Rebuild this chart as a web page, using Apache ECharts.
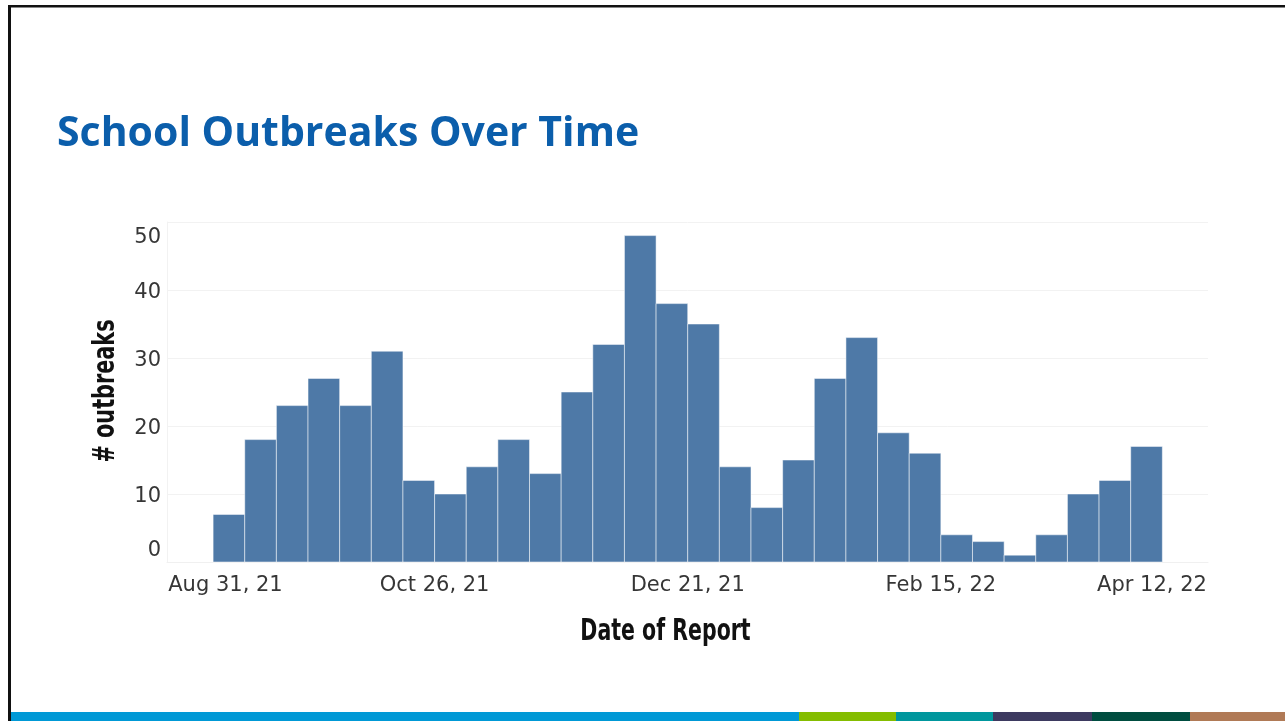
<!DOCTYPE html>
<html>
<head>
<meta charset="utf-8">
<script src="https://cdn.jsdelivr.net/npm/echarts@6/dist/echarts.min.js"></script>
<style>
html,body{margin:0;padding:0;background:#fff;}
#c{width:1285px;height:721px;}
</style>
</head>
<body>
<div id="c"></div>
<script>
// Week start dates (each bar covers one week)
const weekStarts = [
  '2021-09-07','2021-09-14','2021-09-21','2021-09-28',
  '2021-10-05','2021-10-12','2021-10-19','2021-10-26',
  '2021-11-02','2021-11-09','2021-11-16','2021-11-23','2021-11-30',
  '2021-12-07','2021-12-14','2021-12-21','2021-12-28',
  '2022-01-04','2022-01-11','2022-01-18','2022-01-25',
  '2022-02-01','2022-02-08','2022-02-15','2022-02-22',
  '2022-03-01','2022-03-08','2022-03-15','2022-03-22','2022-03-29'
];
const outbreaks = [7,18,23,27,23,31,12,10,14,18,13,25,32,48,38,35,14,8,15,27,33,19,16,4,3,1,4,10,12,17];
const tickDates = ['2021-08-31','2021-10-26','2021-12-21','2022-02-15','2022-04-12'];
const tickLabels = ['Aug 31, 21','Oct 26, 21','Dec 21, 21','Feb 15, 22','Apr 12, 22'];
const yTicks = [0,10,20,30,40,50];
const xTitle = 'Date of Report';
const yTitle = '# outbreaks';

const DAY = 86400000;
const ts = s => new Date(s + 'T00:00:00Z').getTime();
const tickTs = tickDates.map(ts);
const seriesData = weekStarts.map((d, i) => [ts(d), outbreaks[i]]);

const chart = echarts.init(document.getElementById('c'), null, {renderer: 'canvas'});
const tickFont = "'DejaVu Sans', sans-serif";
const condFont = "'DejaVu Sans Condensed', 'Liberation Sans Narrow', sans-serif";
const tickColor = '#363636';

chart.setOption({
  animation: false,
  backgroundColor: '#ffffff',
  title: {
    text: 'School Outbreaks Over Time',
    left: 52,
    top: 109,
    textStyle: {
      fontFamily: "'Open Sans', sans-serif",
      fontWeight: 'bold',
      fontSize: 41,
      color: '#0b5eab'
    }
  },
  graphic: [
    {type: 'rect', shape: {x: 8, y: 5, width: 1277, height: 2.5}, style: {fill: '#111'}},
    {type: 'rect', shape: {x: 8, y: 5, width: 3, height: 716}, style: {fill: '#111'}},
    {type: 'rect', shape: {x: 11, y: 712, width: 788, height: 9}, style: {fill: '#0099d6'}},
    {type: 'rect', shape: {x: 799, y: 712, width: 97, height: 9}, style: {fill: '#84bd00'}},
    {type: 'rect', shape: {x: 896, y: 712, width: 97, height: 9}, style: {fill: '#00979d'}},
    {type: 'rect', shape: {x: 993, y: 712, width: 99, height: 9}, style: {fill: '#3d3a60'}},
    {type: 'rect', shape: {x: 1092, y: 712, width: 98, height: 9}, style: {fill: '#004d40'}},
    {type: 'rect', shape: {x: 1190, y: 712, width: 95, height: 9}, style: {fill: '#b07a56'}},
    {type: 'text', x: 665.5, y: 632, scaleX: 0.76,
     style: {text: xTitle, fontFamily: condFont, fontWeight: 'bold', fontSize: 30, fill: '#111',
             align: 'center', verticalAlign: 'middle'}},
    {type: 'text', x: 106, y: 391, rotation: Math.PI / 2, scaleX: 0.77,
     style: {text: yTitle, fontFamily: condFont, fontWeight: 'bold', fontSize: 30, fill: '#111',
             align: 'center', verticalAlign: 'middle'}}
  ],
  grid: {left: 167, right: 77, top: 222, bottom: 159, containLabel: false},
  xAxis: {
    type: 'value',
    min: tickTs[0] - 3.2 * DAY,
    max: tickTs[4] + 3.1 * DAY,
    axisLine: {show: true, lineStyle: {color: '#f0f0f0', width: 1}},
    axisTick: {show: false, customValues: tickTs},
    splitLine: {show: false},
    axisLabel: {
      customValues: tickTs,
      margin: 13,
      color: tickColor,
      fontFamily: tickFont,
      fontSize: 21,
      formatter: function (v) {
        const i = tickTs.indexOf(v);
        const t = i >= 0 ? tickLabels[i] : '';
        if (i === 0) return '{first|' + t + '}';
        if (i === tickTs.length - 1) return '{last|' + t + '}';
        return '{n|' + t + '}';
      },
      rich: {
        n: {fontFamily: tickFont, fontSize: 21, color: tickColor},
        first: {fontFamily: tickFont, fontSize: 21, color: tickColor, padding: [0, 0, 0, 88]},
        last: {fontFamily: tickFont, fontSize: 21, color: tickColor, padding: [0, 84, 0, 0]}
      }
    }
  },
  yAxis: {
    type: 'value',
    min: 0,
    max: 50,
    interval: 10,
    axisLine: {show: true, lineStyle: {color: '#f2f2f2'}},
    axisTick: {show: false},
    splitLine: {show: true, lineStyle: {color: '#f2f2f2', width: 1}},
    axisLabel: {
      margin: 6,
      color: tickColor,
      fontFamily: tickFont,
      fontSize: 21,
      formatter: function (v) {
        if (v === yTicks[0]) return '{b|' + v + '}';
        if (v === yTicks[yTicks.length - 1]) return '{t|' + v + '}';
        return '{n|' + v + '}';
      },
      rich: {
        n: {fontFamily: tickFont, fontSize: 21, color: tickColor, padding: [5, 0, 0, 0]},
        b: {fontFamily: tickFont, fontSize: 21, color: tickColor, padding: [5, 0, 28, 0]},
        t: {fontFamily: tickFont, fontSize: 21, color: tickColor, padding: [31, 0, 0, 0]}
      }
    }
  },
  series: [{
    type: 'custom',
    data: seriesData,
    encode: {x: 0, y: 1},
    renderItem: function (params, api) {
      const x0 = api.value(0);
      const v = api.value(1);
      const p1 = api.coord([x0, v]);
      const p2 = api.coord([x0 + 7 * DAY, 0]);
      return {
        type: 'rect',
        shape: {x: p1[0], y: p1[1], width: p2[0] - p1[0], height: p2[1] - p1[1]},
        style: {fill: '#4e79a7', stroke: 'rgba(255,255,255,0.5)', lineWidth: 1}
      };
    }
  }]
});
</script>
</body>
</html>
